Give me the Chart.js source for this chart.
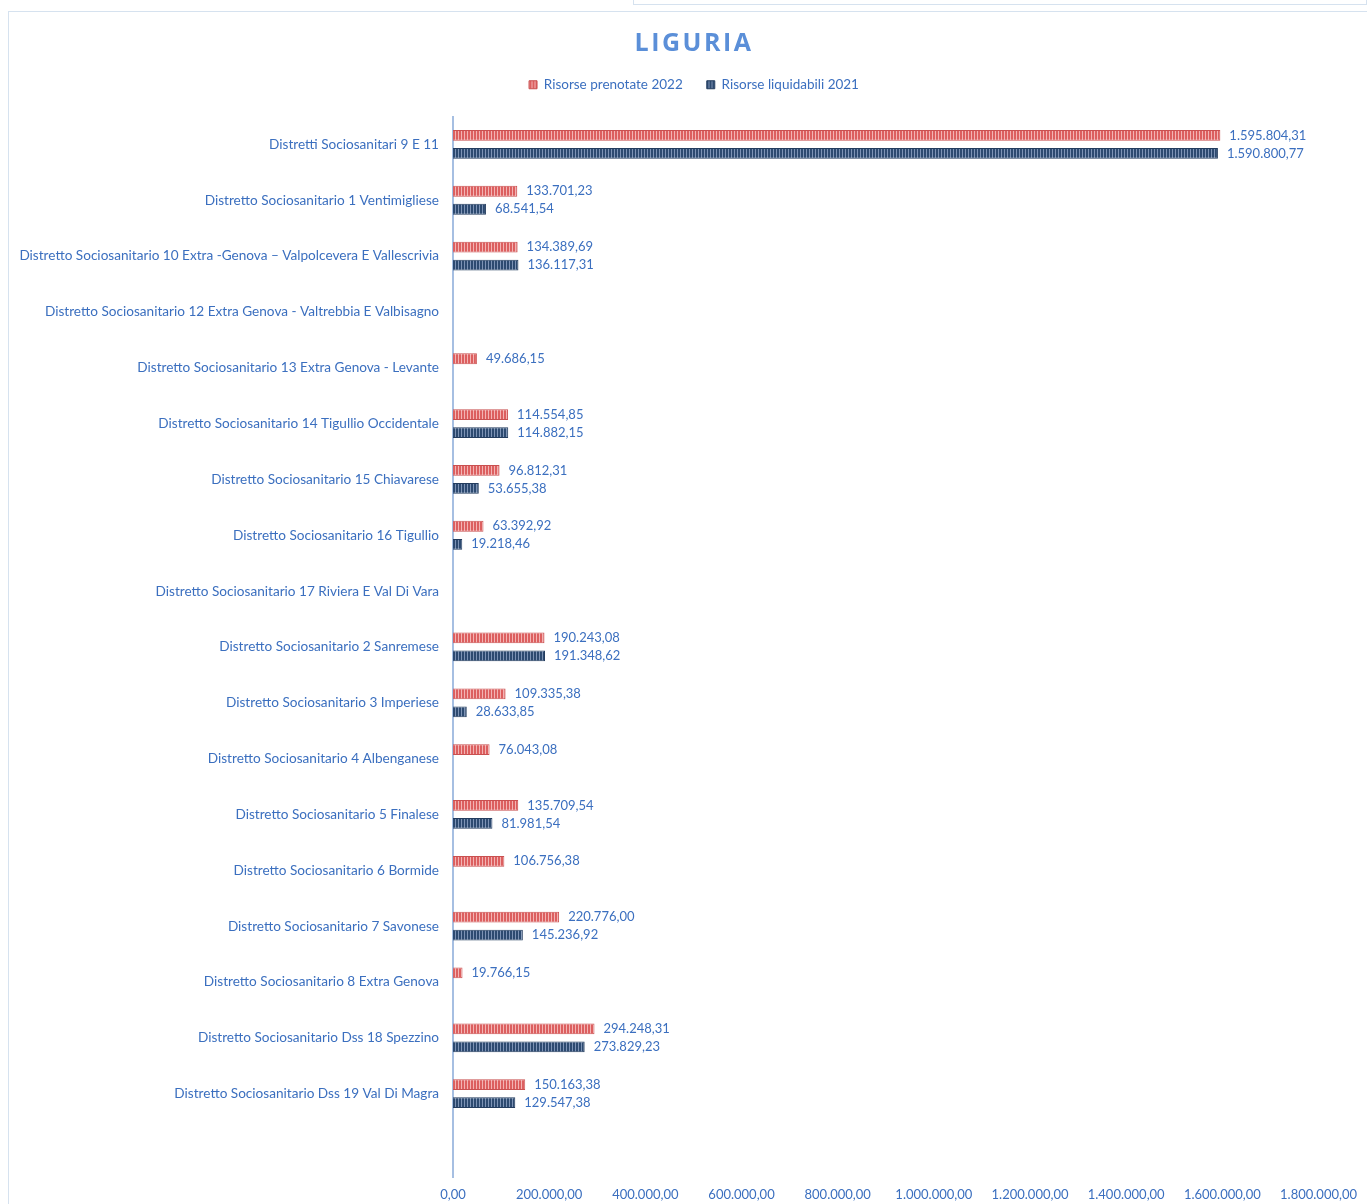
<!DOCTYPE html>
<html lang="it">
<head>
<meta charset="utf-8">
<title>Liguria</title>
<script src="https://cdn.jsdelivr.net/npm/chart.js@4.4.1/dist/chart.umd.min.js"></script>
<style>
  html, body { margin: 0; padding: 0; background: #fff; }
  #cornice {
    position: absolute; left: 8px; top: 11px; width: 1359px; height: 1193px;
    border-left: 1px solid #d6e2ef; border-top: 1px solid #d6e2ef; box-sizing: border-box;
  }
  #riquadro {
    position: absolute; left: 633px; top: -2px; width: 734px; height: 7px;
    border: 1px solid #d6e2ef; box-sizing: border-box;
  }
  #lienzo { position: absolute; left: 0; top: 0; }
</style>
</head>
<body>
<div id="riquadro"></div>
<div id="cornice"></div>
<canvas id="lienzo" width="1367" height="1204"></canvas>
<script>
"use strict";

const distretti = [
  "Distretti Sociosanitari 9 E 11",
  "Distretto Sociosanitario 1 Ventimigliese",
  "Distretto Sociosanitario 10 Extra -Genova – Valpolcevera E Vallescrivia",
  "Distretto Sociosanitario 12 Extra Genova - Valtrebbia E Valbisagno",
  "Distretto Sociosanitario 13 Extra Genova - Levante",
  "Distretto Sociosanitario 14 Tigullio Occidentale",
  "Distretto Sociosanitario 15 Chiavarese",
  "Distretto Sociosanitario 16 Tigullio",
  "Distretto Sociosanitario 17 Riviera E Val Di Vara",
  "Distretto Sociosanitario 2 Sanremese",
  "Distretto Sociosanitario 3 Imperiese",
  "Distretto Sociosanitario 4 Albenganese",
  "Distretto Sociosanitario 5 Finalese",
  "Distretto Sociosanitario 6 Bormide",
  "Distretto Sociosanitario 7 Savonese",
  "Distretto Sociosanitario 8 Extra Genova",
  "Distretto Sociosanitario Dss 18 Spezzino",
  "Distretto Sociosanitario Dss 19 Val Di Magra",
  ""
];

const prenotate2022 = [
  1595804.31, 133701.23, 134389.69, null, 49686.15, 114554.85, 96812.31, 63392.92, null,
  190243.08, 109335.38, 76043.08, 135709.54, 106756.38, 220776.00, 19766.15, 294248.31, 150163.38, null
];

const liquidabili2021 = [
  1590800.77, 68541.54, 136117.31, null, null, 114882.15, 53655.38, 19218.46, null,
  191348.62, 28633.85, null, 81981.54, null, 145236.92, null, 273829.23, 129547.38, null
];

const tickMin = 0;
const tickMax = 1800000;
const tickPasso = 200000;

const coloreTesto = "#3b6fbf";

// formato italiano: 1.234.567,89
function formatoIt(v) {
  const [intera, dec] = Math.abs(v).toFixed(2).split(".");
  const conPunti = intera.replace(/\B(?=(\d{3})+(?!\d))/g, ".");
  return (v < 0 ? "-" : "") + conPunti + "," + dec;
}

// riempimento a righe verticali come nel grafico Excel
function righe(scuro, chiaro) {
  const c = document.createElement("canvas");
  c.width = 3;
  c.height = 4;
  const g = c.getContext("2d");
  g.fillStyle = scuro;
  g.fillRect(0, 0, 3, 4);
  g.fillStyle = chiaro;
  g.fillRect(2, 0, 1, 4);
  return g.createPattern(c, "repeat");
}

const etichetteValori = {
  id: "etichetteValori",
  afterDatasetsDraw(chart) {
    const ctx = chart.ctx;
    ctx.save();
    ctx.font = "13px Lato, 'Open Sans', sans-serif";
    ctx.fillStyle = coloreTesto;
    ctx.textAlign = "left";
    ctx.textBaseline = "middle";
    chart.data.datasets.forEach((ds, i) => {
      const meta = chart.getDatasetMeta(i);
      meta.data.forEach((el, j) => {
        const v = ds.data[j];
        if (v === null || v === undefined) return;
        ctx.fillText(formatoIt(v), el.x + 9, el.y);
      });
    });
    ctx.restore();
  }
};

// titolo e legenda un po' spostati a destra, spazio sotto la legenda
const ritocchi = {
  id: "ritocchi",
  beforeInit(chart) {
    const legenda = chart.legend;
    const fitOrig = legenda.fit;
    legenda.fit = function () {
      fitOrig.call(this);
      this.height += 15;
    };
    const drawLegenda = legenda.draw;
    legenda.draw = function () {
      this.ctx.save();
      this.ctx.translate(10.5, 0);
      drawLegenda.call(this);
      this.ctx.restore();
    };
    const drawTitolo = chart.titleBlock.draw;
    chart.titleBlock.draw = function () {
      const ctx = this.ctx;
      ctx.save();
      ctx.translate(10.5, 0);
      ctx.letterSpacing = "2.5px";
      drawTitolo.call(this);
      ctx.restore();
    };
  }
};

const lienzo = document.getElementById("lienzo").getContext("2d");

new Chart(lienzo, {
  type: "bar",
  data: {
    labels: distretti,
    datasets: [
      {
        label: "Risorse prenotate 2022",
        data: prenotate2022,
        backgroundColor: righe("#dc5f5f", "#f3b3b3"),
        borderColor: "#c95050",
        borderWidth: 1,
        categoryPercentage: 0.645,
        barPercentage: 0.6,
      },
      {
        label: "Risorse liquidabili 2021",
        data: liquidabili2021,
        backgroundColor: righe("#2d4a70", "#7d93b5"),
        borderColor: "#233c5e",
        borderWidth: 1,
        categoryPercentage: 0.645,
        barPercentage: 0.6,
      },
    ],
  },
  options: {
    indexAxis: "y",
    responsive: false,
    animation: false,
    layout: { padding: { left: 8, right: 8, top: 20, bottom: -9 } },
    plugins: {
      title: {
        display: true,
        text: "LIGURIA",
        color: "#5b8fd8",
        font: { family: "'Open Sans', sans-serif", size: 25, weight: "bold" },
        padding: { top: 9, bottom: -5 },
      },
      legend: {
        position: "top",
        labels: {
          boxWidth: 8,
          boxHeight: 8,
          padding: 24,
          color: coloreTesto,
          font: { family: "Lato, sans-serif", size: 13.5 },
        },
      },
      tooltip: { enabled: false },
    },
    scales: {
      x: {
        min: tickMin,
        max: tickMax,
        ticks: {
          stepSize: tickPasso,
          color: coloreTesto,
          font: { family: "Lato, sans-serif", size: 13 },
          padding: 10,
          maxRotation: 0,
          callback: (v) => formatoIt(v),
        },
        grid: { display: false, drawTicks: false },
        border: { display: false },
      },
      y: {
        ticks: {
          color: coloreTesto,
          font: { family: "Lato, sans-serif", size: 13.6 },
          padding: 14,
          autoSkip: false,
        },
        grid: { display: false, drawTicks: false },
        border: { color: "#a6bfe2", width: 2 },
        afterFit(scale) {
          scale.width = 445;
        },
      },
    },
  },
  plugins: [etichetteValori, ritocchi],
});
</script>
</body>
</html>
